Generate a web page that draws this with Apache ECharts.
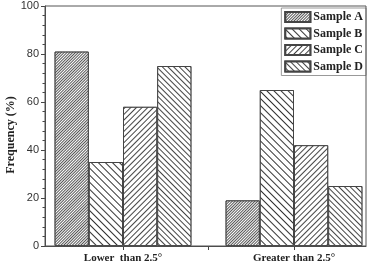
<!DOCTYPE html>
<html>
<head>
<meta charset="utf-8">
<script src="https://cdn.jsdelivr.net/npm/echarts@6/dist/echarts.min.js"></script>
<style>html,body{margin:0;padding:0;background:#fff}#c{width:373px;height:264px}</style>
</head>
<body>
<div id="c"></div>
<script>
const categories = ['Lower  than 2.5°', 'Greater than 2.5°'];
const seriesNames = ['Sample A', 'Sample B', 'Sample C', 'Sample D'];
const sampleA = [81, 19];
const sampleB = [35, 65];
const sampleC = [58, 42];
const sampleD = [75, 25];
const yTicks = [0, 20, 40, 60, 80, 100];

const values = [sampleA, sampleB, sampleC, sampleD];
const decals = [
  {symbol: 'rect', dashArrayX: [1, 0], dashArrayY: [1, 1], rotation: -Math.PI / 4, color: '#555', backgroundColor: '#fff', symbolSize: 1},
  {symbol: 'rect', dashArrayX: [1, 0], dashArrayY: [1, 4], rotation: Math.PI / 4, color: '#333', backgroundColor: '#fff', symbolSize: 1},
  {symbol: 'rect', dashArrayX: [1, 0], dashArrayY: [1, 3], rotation: -Math.PI / 4, color: '#444', backgroundColor: '#fff', symbolSize: 1},
  {symbol: 'rect', dashArrayX: [1, 0], dashArrayY: [1, 3], rotation: Math.PI / 4, color: '#444', backgroundColor: '#fff', symbolSize: 1}
];

const chart = echarts.init(document.getElementById('c'), null, {renderer: 'canvas'});
const serif = '"Liberation Serif", "DejaVu Serif", serif';
const option = {
  animation: false,
  aria: {enabled: false},
  grid: [
    {left: 37.5, width: 342, top: 6, bottom: 18, containLabel: false, outerBoundsMode: 'none'},
    {left: 45, right: 7, top: 6, bottom: 18, outerBoundsMode: 'none', show: true, borderColor: '#555', borderWidth: 1, backgroundColor: 'transparent', z: 10}
  ],
  legend: {
    orient: 'vertical', right: 7, top: 8,
    icon: 'rect',
    itemWidth: 25, itemHeight: 10, itemGap: 4.5,
    padding: [3, 3, 3, 3],
    borderColor: '#999', borderWidth: 1,
    textStyle: {fontFamily: serif, fontWeight: 'bold', fontSize: 12, color: '#222', padding: [0, 0, 0, -2]},
    data: seriesNames
  },
  xAxis: [
    {type: 'category', gridIndex: 0, data: categories,
      axisLine: {show: false}, axisTick: {show: false},
      axisLabel: {fontFamily: serif, fontWeight: 'bold', fontSize: 11, color: '#222', margin: 7}},
    {type: 'value', gridIndex: 1, min: 1 - 78 / 171, max: 2 + 72 / 171,
      axisLine: {show: true, lineStyle: {color: '#444'}},
      axisTick: {show: true, inside: false, length: 4, customValues: [1, 1.5, 2], lineStyle: {color: '#444'}},
      axisLabel: {show: false}, splitLine: {show: false}}
  ],
  yAxis: [
    {type: 'value', gridIndex: 0, min: 0, max: 100, show: false},
    {type: 'value', gridIndex: 1, min: 0, max: 100, interval: 20,
      name: 'Frequency (%)', nameLocation: 'middle', nameGap: 28, nameMoveOverlap: false,
      nameTextStyle: {fontFamily: serif, fontWeight: 'bold', fontSize: 12, color: '#222', padding: [0, 18, 0, 0]},
      axisLine: {show: true, lineStyle: {color: '#444'}},
      axisTick: {show: true, inside: false, length: 4, lineStyle: {color: '#444'}},
      minorTick: {show: true, splitNumber: 5, length: 2.5, lineStyle: {color: '#444'}},
      axisLabel: {fontFamily: 'Arial, "Liberation Sans", sans-serif', fontSize: 11, color: '#333', margin: 6,
        customValues: yTicks},
      splitLine: {show: false}}
  ],
  series: seriesNames.map((n, i) => ({
    name: n, type: 'bar', xAxisIndex: 0, yAxisIndex: 0,
    data: values[i], barWidth: 34.2, barGap: '0%',
    itemStyle: {color: '#fff', borderColor: '#444', borderWidth: 1, decal: decals[i]}
  }))
};
chart.setOption(option);
</script>
</body>
</html>
